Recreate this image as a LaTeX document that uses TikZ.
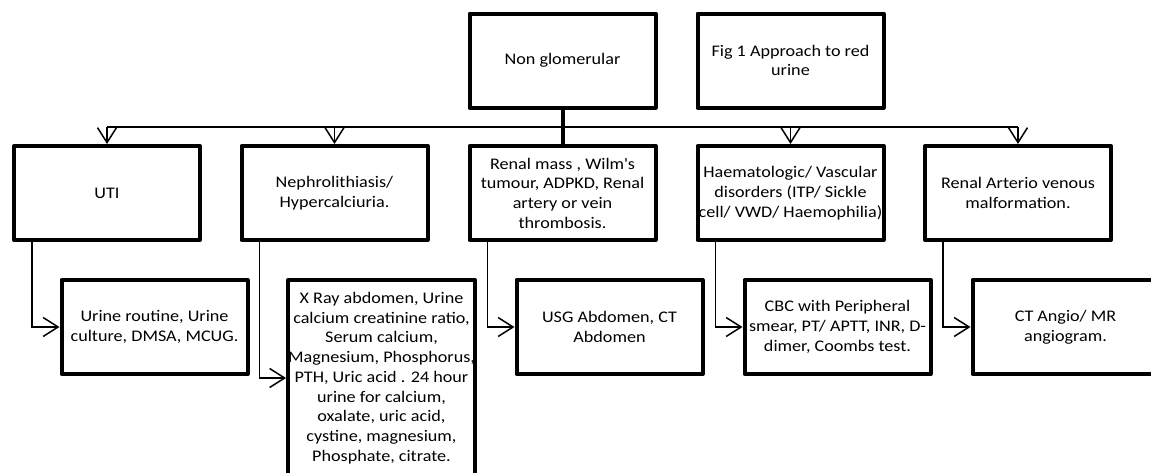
\documentclass[tikz,border=0pt]{standalone}
\usepackage{fontspec}
\setmainfont{Carlito}[FakeStretch=1.12]
\usetikzlibrary{arrows.meta}
\begin{document}
\begin{tikzpicture}[x=1pt,y=-1pt,
  box/.style={draw, line width=4pt, line join=round, minimum width=186pt,
    minimum height=94pt, inner sep=0pt, align=center,
    font=\fontsize{16.2}{19.7}\selectfont},
  conn/.style={line width=1.5pt, -{Straight Barb[length=15pt,width=19pt,line width=1.5pt]}},
  bus/.style={line width=1.5pt}
  ]
\useasboundingbox (0,0) rectangle (1151,472);
\clip (0,0) rectangle (1151,472);
% top row
\node[box] (ng) at (562.5,60.5) {Non glomerular};
\node[box] (fig) at (790.5,60.5) {Fig 1 Approach to red\\urine};
% second row
\node[box] (uti) at (107,193) {UTI};
\node[box] (neph) at (334.5,193) {Nephrolithiasis/\\Hypercalciuria.};
\node[box] (renal) at (562.5,193) {Renal mass , Wilm\textquotesingle s\\tumour, ADPKD, Renal\\artery or vein\\thrombosis.};
\node[box] (haem) at (790.5,193) {Haematologic/ Vascular\\disorders (ITP/ Sickle\\cell/ VWD/ Haemophilia)};
\node[box] (rav) at (1018,193) {Renal Arterio venous\\malformation.};
% third row
\node[box] (urine) at (154.5,327) {Urine routine, Urine\\culture, DMSA, MCUG.};
\node[box, minimum height=196pt] (xray) at (381.5,378) {X Ray abdomen, Urine\\calcium creatinine ratio,\\Serum calcium,\\Magnesium, Phosphorus,\\PTH, Uric acid . 24 hour\\urine for calcium,\\oxalate, uric acid,\\cystine, magnesium,\\Phosphate, citrate.};
\node[box] (usg) at (609.5,327) {USG Abdomen, CT\\Abdomen};
\node[box] (cbc) at (837.5,327) {CBC with Peripheral\\smear, PT/ APTT, INR, D-\\dimer, Coombs test.};
\node[box] (cta) at (1065.5,327) {CT Angio/ MR\\angiogram.};
% bus
\coordinate (busy) at (0,127);
\draw[bus] (uti.north |- busy) -- (rav.north |- busy);
\draw[conn] (uti.north |- busy) -- (uti.north);
\draw[conn] (neph.north |- busy) -- (neph.north);
\draw[conn] (haem.north |- busy) -- (haem.north);
\draw[conn] (rav.north |- busy) -- (rav.north);
\draw[line width=4pt] (ng.south) -- (renal.north);
% lower connectors
\draw[conn] ([xshift=20pt]uti.south west) |- (urine.west);
\draw[conn] ([xshift=20pt]neph.south west) |- (xray.west);
\draw[conn] ([xshift=20pt]renal.south west) |- (usg.west);
\draw[conn] ([xshift=20pt]haem.south west) |- (cbc.west);
\draw[conn] ([xshift=20pt]rav.south west) |- (cta.west);
\end{tikzpicture}
\end{document}
